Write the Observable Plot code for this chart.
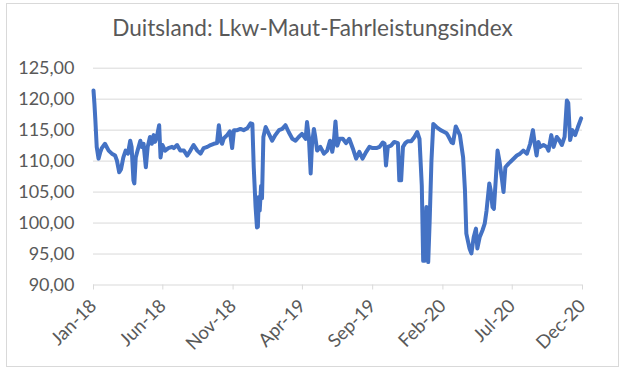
<!DOCTYPE html>
<html>
<head>
<meta charset="utf-8">
<script src="https://cdn.jsdelivr.net/npm/d3@7"></script>
<script src="https://cdn.jsdelivr.net/npm/@observablehq/plot@0.6"></script>
<style>
  html, body { margin: 0; padding: 0; background: #fff; }
  #wrap { position: relative; width: 625px; height: 375px; overflow: hidden; font-family: Lato, "Open Sans", sans-serif; }
  #frame { position: absolute; left: 6px; top: 3px; width: 613px; height: 364px; border: 1px solid #d9d9d9; box-sizing: border-box; }
  #title { position: absolute; left: 0; top: 14px; width: 625px; text-align: center; font-size: 22.6px; line-height: 28px; color: #595959; }
  #chart { position: absolute; left: 0; top: 50px; }
</style>
</head>
<body>
<div id="wrap">
  <div id="frame"></div>
  <div id="title">Duitsland: Lkw-Maut-Fahrleistungsindex</div>
  <div id="chart"></div>
</div>
<script>
const dates = [
"2018-01-01","2018-01-03","2018-01-05","2018-01-08","2018-01-12","2018-01-16","2018-01-19","2018-01-26",
"2018-02-03","2018-02-10","2018-02-17","2018-02-21","2018-02-26","2018-03-02","2018-03-07","2018-03-12",
"2018-03-17","2018-03-22","2018-03-25","2018-03-29","2018-03-31","2018-04-03","2018-04-07","2018-04-13",
"2018-04-16","2018-04-20","2018-04-25","2018-04-29","2018-05-04","2018-05-08","2018-05-12","2018-05-15",
"2018-05-19","2018-05-24","2018-05-27","2018-05-31","2018-06-06","2018-06-13","2018-06-21","2018-06-25",
"2018-07-02","2018-07-09","2018-07-17","2018-07-24","2018-07-31","2018-08-07","2018-08-15","2018-08-22",
"2018-08-29","2018-09-06","2018-09-13","2018-09-20","2018-09-27","2018-10-01","2018-10-05","2018-10-08",
"2018-10-12","2018-10-19","2018-10-25","2018-10-30","2018-11-03","2018-11-10","2018-11-17","2018-11-24",
"2018-12-02","2018-12-09","2018-12-13","2018-12-16","2018-12-20","2018-12-23","2018-12-25","2018-12-27",
"2018-12-29","2019-01-01","2019-01-03","2019-01-06","2019-01-11","2019-01-18","2019-01-25","2019-02-01",
"2019-02-09","2019-02-16","2019-02-23","2019-03-02","2019-03-10","2019-03-17","2019-03-24","2019-03-31",
"2019-04-08","2019-04-11","2019-04-15","2019-04-19","2019-04-22","2019-04-26","2019-04-29","2019-05-03",
"2019-05-10","2019-05-18","2019-05-25","2019-05-31","2019-06-05","2019-06-08","2019-06-12","2019-06-16",
"2019-06-21","2019-06-28","2019-07-05","2019-07-12","2019-07-20","2019-07-27","2019-08-03","2019-08-10",
"2019-08-18","2019-08-25","2019-09-01","2019-09-09","2019-09-16","2019-09-23","2019-09-27","2019-09-30",
"2019-10-04","2019-10-11","2019-10-18","2019-10-26","2019-10-29","2019-11-02","2019-11-06","2019-11-11",
"2019-11-16","2019-11-24","2019-12-01","2019-12-07","2019-12-12","2019-12-17","2019-12-20","2019-12-23",
"2019-12-27","2019-12-31","2020-01-03","2020-01-07","2020-01-11","2020-01-18","2020-01-27","2020-02-04",
"2020-02-09","2020-02-13","2020-02-20","2020-02-23","2020-02-29","2020-03-09","2020-03-16","2020-03-20",
"2020-03-23","2020-03-30","2020-04-03","2020-04-08","2020-04-13","2020-04-16","2020-04-21","2020-04-27",
"2020-05-02","2020-05-06","2020-05-12","2020-05-15","2020-05-19","2020-05-22","2020-05-26","2020-05-30",
"2020-06-03","2020-06-08","2020-06-12","2020-06-16","2020-06-23","2020-06-30","2020-07-11","2020-07-18",
"2020-07-25","2020-08-02","2020-08-09","2020-08-15","2020-08-20","2020-08-23","2020-08-27","2020-08-31",
"2020-09-07","2020-09-14","2020-09-18","2020-09-24","2020-09-29","2020-10-06","2020-10-11","2020-10-17",
"2020-10-23","2020-10-28","2020-10-31","2020-11-04","2020-11-09","2020-11-15","2020-11-21","2020-11-28"
];
const values = [
121.4,119.3,116.7,112.3,110.4,111.5,112.1,112.8,
111.7,111.2,110.9,110.1,108.2,108.7,110.6,111.7,
111.2,113.3,112.3,106.9,106.4,110.6,111.7,113.3,
112.3,112.8,109.0,112.3,113.9,112.8,114.2,113.1,
113.9,115.8,110.6,112.6,111.7,112.1,112.3,112.1,
112.6,111.7,111.7,110.9,111.7,112.6,111.7,111.2,
112.1,112.3,112.6,112.8,112.9,115.8,113.2,112.8,
113.7,114.2,114.8,112.1,115.0,115.0,115.2,115.0,
115.3,116.1,116.0,109.0,102.6,99.3,99.4,104.2,
102.0,106.0,104.0,113.9,115.5,114.4,113.3,114.2,
115.0,115.2,115.8,114.7,113.6,113.3,113.9,114.4,
113.6,116.3,113.9,108.0,112.8,115.2,113.9,111.7,
112.3,111.2,111.7,113.3,111.5,112.8,116.4,112.5,
113.6,113.6,112.9,113.6,112.0,110.4,111.5,110.4,
111.5,112.3,112.1,112.1,112.3,113.0,112.8,109.3,
112.3,112.5,113.1,112.9,106.9,106.9,112.3,112.9,
113.2,113.2,113.9,114.7,113.6,106.0,93.9,93.9,
102.6,93.7,100.0,110.0,116.0,115.5,115.0,114.7,
114.5,114.0,113.0,112.9,115.6,114.2,110.6,105.3,
98.3,95.9,95.1,97.7,99.1,95.9,97.7,98.8,
99.9,102.0,106.4,105.3,102.6,102.3,106.9,111.7,
110.1,107.4,105.0,109.0,109.6,110.1,110.9,111.2,
111.7,111.2,112.8,115.0,112.3,110.9,113.1,112.3,
112.6,112.3,111.7,114.2,112.3,113.9,113.4,112.6,
113.9,119.8,119.4,113.4,115.0,114.2,115.5,116.9
];
const xTickDates = ["2018-01-01","2018-06-01","2018-11-01","2019-04-01","2019-09-01","2020-02-01","2020-07-01","2020-12-01"];
const xTickLabels = ["Jan-18","Jun-18","Nov-18","Apr-19","Sep-19","Feb-20","Jul-20","Dec-20"];
const yTicks = [90, 95, 100, 105, 110, 115, 120, 125];

const parse = s => new Date(s + "T00:00:00Z");
const data = dates.map((d, i) => ({date: parse(d), value: values[i]}));
const xTicks = xTickDates.map(parse);
const fmtY = v => v.toFixed(2).replace(".", ",");
const fmtX = d => xTickLabels[xTicks.findIndex(t => +t === +d)];

const chart = Plot.plot({
  width: 625,
  height: 325,
  marginLeft: 93,
  marginRight: 43,
  marginTop: 17.7,
  marginBottom: 90.5,
  style: {fontFamily: "Lato, 'Open Sans', sans-serif", background: "transparent", overflow: "visible"},
  x: {type: "utc", domain: [xTicks[0], xTicks[xTicks.length - 1]]},
  y: {domain: [90, 125]},
  marks: [
    Plot.ruleY(yTicks, {stroke: "#d9d9d9", strokeWidth: 1}),
    Plot.axisY({ticks: yTicks, tickSize: 0, tickPadding: 19, tickFormat: fmtY, fontSize: 18, fill: "#595959", label: null}),
    Plot.axisX({ticks: xTicks, tickSize: 5, tickPadding: 13, tickFormat: fmtX, tickRotate: -45, fontSize: 18.5, fill: "#595959", stroke: "#d9d9d9", label: null}),
    Plot.line(data, {x: "date", y: "value", stroke: "#4472C4", strokeWidth: 4, strokeLinejoin: "round", strokeLinecap: "round"})
  ]
});
document.getElementById("chart").appendChild(chart);
</script>
</body>
</html>
